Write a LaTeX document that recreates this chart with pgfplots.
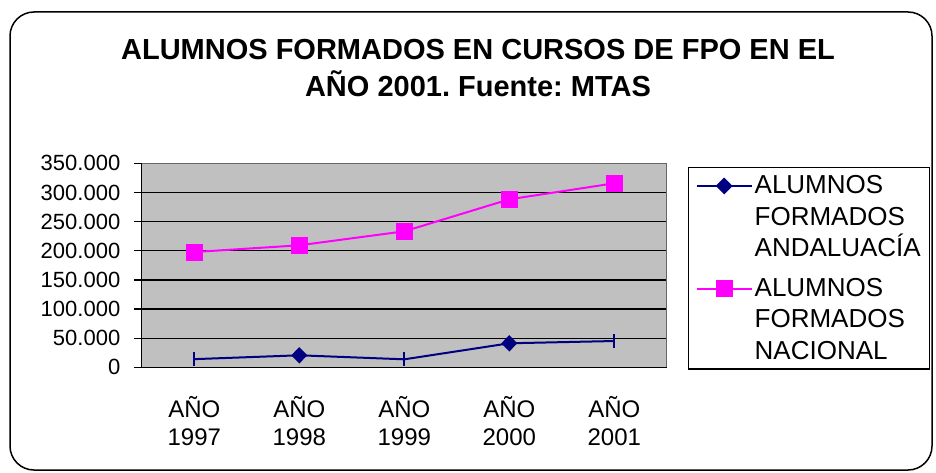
\documentclass[border=0pt]{standalone}
\usepackage{fontspec}
\setmainfont{Liberation Sans}
\usepackage{pgfplots}
\pgfplotsset{compat=1.18}
\definecolor{navy}{HTML}{000080}
\definecolor{mag}{HTML}{FF00FF}
\definecolor{plotgray}{HTML}{C0C0C0}
\pgfplotstableread{
x y
0 14000
1 20600
2 13700
3 41200
4 45100
}\andalucia
\pgfplotstableread{
x y
0 197800
1 209300
2 233300
3 288200
4 315700
}\nacional
\pgfplotsset{
  andleg/.style={legend image code/.code={
    \draw[navy, line width=2pt] (0pt,31pt) -- (55pt,31pt);
    \fill[navy] (27.5pt,38pt) -- (34.5pt,31pt) -- (27.5pt,24pt) -- (20.5pt,31pt) -- cycle;
  }},
  nacleg/.style={legend image code/.code={
    \draw[mag, line width=2pt] (0pt,31pt) -- (55pt,31pt);
    \fill[mag] (20pt,23.5pt) rectangle (35pt,38.5pt);
  }},
}
\frenchspacing
\begin{document}
\begin{tikzpicture}[x=1pt,y=1pt]
\useasboundingbox (0,0) rectangle (936,472);
\fill[white] (0,0) rectangle (936,472);
\draw[line width=1.5pt, rounded corners=24pt] (10,2) rectangle (932,460);
\node[align=center, font=\fontsize{29}{37}\selectfont\bfseries] at (478,404)
  {ALUMNOS FORMADOS EN CURSOS DE FPO EN EL\\AÑO 2001. Fuente: MTAS};
\begin{axis}[
  at={(141.8pt,104.7pt)}, anchor=south west,
  scale only axis, width=525pt, height=204pt,
  xmin=-0.5, xmax=4.5, ymin=0, ymax=350000,
  axis background/.style={fill=plotgray},
  axis x line*=bottom, axis y line*=left,
  axis line style={line width=1.3pt, black},
  ytick={0,50000,100000,150000,200000,250000,300000,350000},
  scaled y ticks=false,
  yticklabel style={font=\fontsize{22}{26}\selectfont, xshift=-10pt, /pgf/number format/fixed, /pgf/number format/1000 sep={.}, /pgf/number format/assume math mode=true},
  ymajorgrids, grid style={black, line width=1.3pt},
  tick align=outside,
  major tick length=8pt,
  tick style={black, line width=1.3pt},
  xtick={0,1,2,3,4},
  xticklabels={{AÑO\\1997},{AÑO\\1998},{AÑO\\1999},{AÑO\\2000},{AÑO\\2001}},
  xticklabel style={align=center, font=\fontsize{24}{28}\selectfont, yshift=-18pt},
  x tick style={draw=none},
  extra x ticks={-0.5,0.5,1.5,2.5,3.5,4.5},
  extra x tick labels={},
  extra x tick style={tick style={black, line width=1.3pt, draw=black}, major tick length=7pt, grid=none},
  clip=false,
  legend style={at={(axis description cs:1.0404,0.982)}, anchor=north west,
    draw=black, line width=1.3pt, fill=white,
    font=\fontsize{26}{31.5}\selectfont,
    cells={anchor=west, align=left},
    inner xsep=7pt, inner ysep=6pt, row sep=16pt},
]
\draw[gray!80!black, line width=1.3pt] (axis cs:-0.5,350000) -- (axis cs:4.5,350000) -- (axis cs:4.5,0);
\addplot[navy, line width=2pt, mark=diamond*, mark size=6.8pt, mark options={xscale=1.3}, mark indices={2,4}, andleg] table[x=x,y=y] {\andalucia};
\addlegendentry{ALUMNOS\\FORMADOS\\ANDALUACÍA}
\addplot[mag, line width=2pt, mark=square*, mark size=7.5pt, nacleg] table[x=x,y=y] {\nacional};
\addlegendentry{ALUMNOS\\FORMADOS\\NACIONAL}
\addplot[navy, line width=2pt, only marks, mark=|, mark size=7pt, mark indices={1,3,5}, forget plot] table[x=x,y=y] {\andalucia};
\end{axis}
\end{tikzpicture}
\end{document}
